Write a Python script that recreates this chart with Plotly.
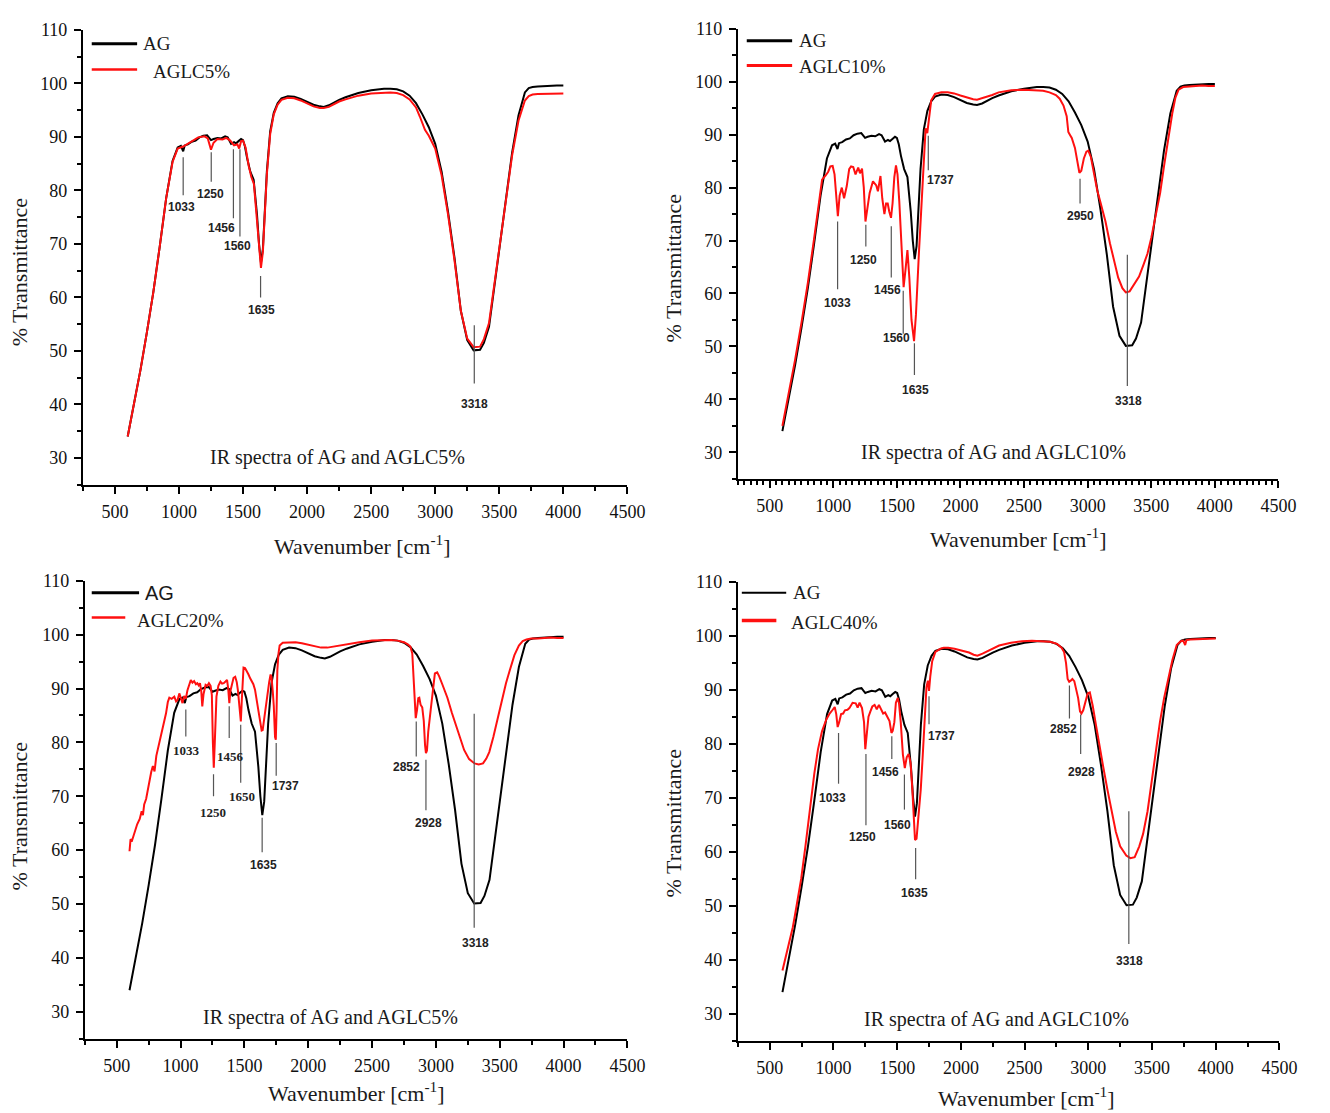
import plotly.graph_objects as go

W, H = 1330, 1113

# ---------------- spectra: (wavenumber cm-1, % transmittance) ----------------
AG = [
    (600, 34.0), (625, 37.0), (650, 40.0), (700, 46.5), (750, 53.5), (800, 61.0),
    (850, 69.5), (900, 78.5), (950, 85.5), (990, 88.0), (1015, 88.3), (1033, 87.3),
    (1045, 88.4), (1070, 88.6), (1100, 89.1), (1130, 89.3), (1160, 89.9), (1190, 90.2),
    (1220, 90.3), (1250, 89.4), (1270, 89.6), (1300, 89.8), (1330, 89.7), (1360, 90.1),
    (1380, 89.9), (1407, 88.7), (1430, 89.0), (1446, 88.8), (1465, 89.2), (1485, 89.6),
    (1500, 89.4), (1515, 88.2), (1532, 86.0), (1557, 83.5), (1583, 82.0), (1609, 75.5),
    (1625, 70.0), (1640, 66.5), (1655, 69.0), (1670, 75.0), (1686, 83.5), (1712, 91.0),
    (1740, 94.5), (1770, 96.3), (1800, 97.2), (1850, 97.6), (1900, 97.5), (1950, 97.1),
    (2000, 96.5), (2050, 96.0), (2100, 95.7), (2130, 95.6), (2170, 95.9), (2200, 96.3),
    (2250, 96.9), (2300, 97.4), (2400, 98.2), (2500, 98.7), (2600, 99.0), (2650, 99.0),
    (2700, 98.9), (2750, 98.5), (2800, 97.7), (2850, 96.3), (2900, 94.2), (2950, 91.8),
    (3000, 88.7), (3050, 83.5), (3100, 76.0), (3150, 67.5), (3200, 57.5), (3250, 52.0),
    (3300, 50.1), (3350, 50.2), (3380, 51.5), (3420, 54.5), (3450, 60.0), (3500, 69.5),
    (3550, 78.5), (3600, 87.0), (3650, 94.0), (3700, 98.3), (3730, 99.1), (3760, 99.3),
    (3800, 99.4), (3850, 99.5), (3900, 99.6), (3950, 99.6), (4000, 99.6),
]

AGLC5 = [
    (600, 34.0), (625, 37.0), (650, 40.0), (700, 46.5), (750, 53.5), (800, 61.0),
    (850, 69.5), (900, 78.5), (950, 85.3), (990, 87.8), (1033, 88.2), (1060, 88.6),
    (1100, 89.3), (1150, 89.9), (1200, 90.1), (1225, 89.7), (1250, 87.6), (1270, 88.9),
    (1300, 89.6), (1340, 89.5), (1370, 89.8), (1400, 89.3), (1430, 88.4), (1456, 88.6),
    (1470, 87.8), (1485, 89.2), (1500, 89.3), (1520, 88.0), (1545, 84.5), (1565, 82.5),
    (1585, 81.2), (1605, 76.0), (1625, 69.5), (1640, 65.5), (1655, 68.5), (1670, 74.5),
    (1686, 83.0), (1712, 90.5), (1740, 94.2), (1770, 96.0), (1800, 96.9), (1850, 97.3),
    (1900, 97.2), (1950, 96.8), (2000, 96.2), (2050, 95.7), (2100, 95.4), (2130, 95.4),
    (2170, 95.6), (2200, 96.0), (2250, 96.6), (2300, 97.0), (2400, 97.7), (2500, 98.1),
    (2600, 98.3), (2650, 98.3), (2700, 98.2), (2750, 97.8), (2800, 97.0), (2850, 95.5),
    (2880, 93.8), (2900, 92.5), (2920, 91.3), (2950, 90.2), (3000, 87.8), (3050, 82.8),
    (3100, 75.5), (3150, 67.0), (3200, 57.5), (3250, 52.3), (3300, 50.7), (3350, 50.8),
    (3380, 52.2), (3420, 55.2), (3450, 60.5), (3500, 69.7), (3550, 78.5), (3600, 86.5),
    (3650, 93.0), (3700, 96.8), (3730, 97.6), (3760, 97.9), (3800, 98.0), (3900, 98.1),
    (4000, 98.1),
]

AGLC10 = [
    (600, 35.0), (625, 38.0), (650, 41.0), (700, 47.5), (750, 54.5), (800, 62.0),
    (850, 70.5), (880, 76.0), (912, 81.5), (940, 82.3), (960, 83.0), (977, 84.0),
    (995, 84.1), (1010, 82.5), (1022, 78.0), (1036, 74.6), (1050, 78.5), (1067, 80.0),
    (1085, 78.0), (1106, 80.3), (1125, 83.5), (1140, 84.0), (1157, 83.9), (1175, 82.5),
    (1196, 83.8), (1210, 82.7), (1226, 83.6), (1240, 80.0), (1253, 73.6), (1268, 76.5),
    (1286, 79.0), (1312, 81.2), (1338, 80.4), (1351, 79.3), (1371, 82.2), (1385, 78.0),
    (1402, 75.0), (1415, 77.0), (1428, 77.0), (1440, 75.5), (1454, 74.3), (1466, 77.0),
    (1480, 82.0), (1493, 84.2), (1505, 82.5), (1519, 77.4), (1535, 69.0), (1553, 61.2),
    (1568, 64.5), (1583, 68.2), (1598, 63.0), (1615, 55.0), (1635, 51.0), (1650, 56.0),
    (1674, 68.0), (1700, 80.5), (1715, 87.5), (1726, 91.2), (1739, 90.3), (1750, 93.0),
    (1770, 96.5), (1800, 97.7), (1850, 98.0), (1900, 98.0), (1950, 97.8), (2000, 97.4),
    (2050, 97.0), (2100, 96.7), (2130, 96.6), (2200, 97.1), (2250, 97.5), (2300, 98.0),
    (2400, 98.4), (2500, 98.5), (2600, 98.4), (2650, 98.3), (2700, 98.0), (2750, 97.5),
    (2780, 96.8), (2810, 95.5), (2835, 93.5), (2848, 90.5), (2860, 90.0), (2875, 89.4),
    (2900, 87.5), (2920, 84.5), (2935, 82.8), (2950, 83.2), (2970, 85.5), (2990, 86.8),
    (3005, 87.0), (3025, 85.8), (3050, 82.5), (3075, 79.5), (3100, 77.3), (3140, 73.6),
    (3175, 69.5), (3207, 66.5), (3240, 63.0), (3273, 61.0), (3300, 60.2), (3330, 60.4),
    (3360, 61.5), (3404, 63.2), (3440, 65.5), (3470, 67.5), (3500, 70.5), (3535, 74.5),
    (3570, 79.0), (3600, 84.0), (3635, 89.5), (3665, 94.0), (3690, 97.0), (3715, 98.5),
    (3750, 99.0), (3800, 99.1), (3850, 99.2), (3900, 99.3), (3950, 99.2), (4000, 99.2),
]

AGLC20 = [
    (600, 59.8), (608, 62.0), (620, 61.8), (640, 63.5), (660, 64.8), (680, 65.8),
    (695, 67.2), (705, 66.5), (715, 68.5), (730, 69.5), (745, 71.5), (757, 72.5),
    (770, 74.5), (783, 75.6), (796, 74.6), (810, 77.5), (822, 78.7), (840, 80.5),
    (860, 82.4), (875, 84.5), (886, 85.4), (900, 87.5), (912, 88.3), (930, 88.1),
    (951, 88.5), (965, 87.6), (977, 87.9), (990, 89.1), (1003, 88.0), (1015, 87.3),
    (1028, 88.6), (1041, 88.1), (1054, 89.7), (1067, 90.8), (1080, 91.6), (1093, 91.1),
    (1106, 91.4), (1120, 90.8), (1131, 91.0), (1142, 90.6), (1152, 91.0), (1162, 89.5),
    (1170, 86.7), (1180, 89.0), (1196, 90.7), (1210, 90.5), (1222, 91.0), (1235, 90.5),
    (1245, 88.8), (1253, 80.0), (1260, 75.3), (1268, 80.0), (1281, 88.5), (1296, 90.5),
    (1312, 91.3), (1325, 90.9), (1338, 91.0), (1352, 91.3), (1364, 91.6), (1373, 90.0),
    (1382, 87.3), (1390, 89.5), (1402, 91.0), (1415, 92.0), (1428, 92.2), (1440, 91.2),
    (1449, 89.7), (1462, 86.0), (1472, 83.9), (1480, 88.0), (1493, 93.9), (1505, 93.8),
    (1519, 93.3), (1532, 92.6), (1545, 91.9), (1558, 91.4), (1570, 90.8), (1583, 89.8),
    (1596, 87.9), (1610, 85.5), (1622, 83.6), (1635, 82.2), (1643, 82.3), (1655, 84.5),
    (1668, 87.3), (1681, 89.5), (1694, 91.2), (1705, 92.6), (1712, 92.2), (1722, 89.5),
    (1730, 86.8), (1740, 81.0), (1746, 80.5), (1752, 86.0), (1758, 93.4), (1767, 96.5),
    (1776, 98.0), (1800, 98.5), (1850, 98.6), (1900, 98.6), (1950, 98.4), (2000, 98.1),
    (2050, 97.8), (2100, 97.6), (2150, 97.6), (2200, 97.8), (2250, 98.1), (2300, 98.3),
    (2400, 98.6), (2500, 98.9), (2600, 99.0), (2650, 99.0), (2700, 98.9), (2750, 98.6),
    (2780, 98.2), (2800, 97.8), (2815, 96.5), (2825, 92.0), (2835, 86.0), (2842, 84.5),
    (2852, 86.0), (2862, 88.2), (2870, 88.3), (2880, 87.0), (2893, 86.5), (2905, 84.0),
    (2915, 79.5), (2922, 78.0), (2930, 78.5), (2940, 82.0), (2959, 86.0), (2975, 90.0),
    (2992, 92.8), (3010, 93.0), (3025, 92.3), (3050, 90.8), (3090, 88.3), (3125, 85.5),
    (3156, 83.2), (3190, 80.8), (3221, 78.6), (3260, 76.9), (3303, 76.1), (3335, 75.9),
    (3369, 76.1), (3395, 77.0), (3418, 78.2), (3450, 81.0), (3484, 84.5), (3515, 87.7),
    (3549, 91.0), (3580, 93.5), (3615, 96.2), (3650, 98.0), (3680, 98.8), (3710, 99.1),
    (3746, 99.3), (3800, 99.3), (3850, 99.4), (3900, 99.5), (3950, 99.4), (4000, 99.4),
]

AGLC40 = [
    (600, 38.0), (625, 40.5), (650, 43.0), (681, 46.0), (700, 48.5), (747, 55.0),
    (780, 61.0), (813, 67.5), (850, 74.5), (879, 79.0), (910, 82.3), (944, 84.5),
    (970, 85.6), (994, 86.3), (1010, 86.8), (1022, 85.5), (1033, 83.1), (1045, 84.0),
    (1060, 85.5), (1076, 85.6), (1090, 86.2), (1110, 86.3), (1125, 86.6), (1150, 87.6),
    (1175, 87.5), (1190, 86.7), (1205, 87.6), (1224, 86.6), (1240, 84.0), (1250, 79.0),
    (1262, 81.5), (1275, 85.0), (1290, 86.0), (1305, 86.9), (1323, 87.2), (1340, 86.4),
    (1357, 87.2), (1372, 86.4), (1390, 85.6), (1405, 85.8), (1422, 85.0), (1440, 84.2),
    (1455, 82.0), (1465, 82.4), (1478, 84.0), (1490, 87.6), (1505, 88.5), (1515, 87.4),
    (1528, 84.0), (1545, 78.0), (1560, 75.5), (1575, 77.5), (1590, 78.1), (1605, 76.5),
    (1618, 72.0), (1630, 65.0), (1640, 62.2), (1652, 62.4), (1665, 66.0), (1685, 71.5),
    (1700, 77.5), (1718, 86.0), (1730, 90.5), (1741, 91.7), (1750, 89.8), (1760, 92.5),
    (1775, 95.3), (1800, 97.0), (1840, 97.6), (1866, 97.8), (1900, 97.8), (1950, 97.6),
    (2000, 97.3), (2064, 96.9), (2100, 96.5), (2130, 96.3), (2170, 96.7), (2228, 97.4),
    (2300, 98.2), (2393, 98.7), (2480, 99.0), (2558, 99.1), (2650, 99.0), (2700, 98.9),
    (2755, 98.5), (2790, 97.8), (2810, 97.0), (2825, 95.0), (2838, 92.0), (2850, 91.5),
    (2862, 91.7), (2875, 92.0), (2890, 91.6), (2905, 90.0), (2920, 88.5), (2935, 86.0),
    (2946, 85.6), (2960, 86.2), (2975, 87.8), (2995, 89.3), (3012, 89.5), (3035, 87.0),
    (3060, 83.5), (3084, 80.0), (3115, 76.0), (3150, 71.5), (3185, 67.0), (3216, 63.7),
    (3250, 61.0), (3298, 59.3), (3330, 58.8), (3364, 59.0), (3400, 61.0), (3430, 63.3),
    (3465, 67.5), (3496, 72.8), (3530, 78.5), (3562, 84.0), (3595, 88.5), (3628, 92.4),
    (3660, 95.5), (3694, 98.3), (3725, 99.0), (3745, 99.1), (3760, 98.3), (3770, 99.2),
    (3800, 99.3), (3900, 99.4), (4000, 99.5),
]

# ---------------- band assignments: label, marker x, marker y0..y1, label x, label y ----------------
SANS = "Liberation Sans"
SERIF = "Liberation Serif"

PEAKS_5 = [
    ("1033", 1033, 86.2, 79.1, 1020, 76.8, SANS),
    ("1250", 1252, 87.1, 81.6, 1245, 79.3, SANS),
    ("1456", 1425, 87.7, 74.8, 1335, 73.0, SANS),
    ("1560", 1476, 87.7, 71.4, 1456, 69.6, SANS),
    ("1635", 1637, 64.0, 60.0, 1643, 57.6, SANS),
    ("3318", 3305, 54.8, 43.9, 3305, 40.0, SANS),
]
PEAKS_10 = [
    ("1033", 1034, 73.6, 60.8, 1034, 58.2, SANS),
    ("1250", 1256, 73.0, 68.9, 1235, 66.4, SANS),
    ("1456", 1456, 72.7, 63.0, 1424, 60.7, SANS),
    ("1560", 1550, 60.5, 52.4, 1501, 51.5, SANS),
    ("1635", 1638, 50.6, 44.6, 1645, 41.8, SANS),
    ("1737", 1747, 89.8, 83.3, 1841, 81.4, SANS),
    ("2950", 2940, 81.7, 77.0, 2946, 74.7, SANS),
    ("3318", 3312, 67.3, 42.5, 3318, 39.7, SANS),
]
PEAKS_20 = [
    ("1033", 1041, 86.1, 81.1, 1050, 78.5, SERIF),
    ("1250", 1258, 74.1, 70.0, 1255, 67.0, SERIF),
    ("1456", 1381, 86.7, 80.8, 1392, 77.3, SERIF),
    ("1650", 1471, 83.3, 72.5, 1478, 70.0, SERIF),
    ("1635", 1639, 66.0, 59.6, 1652, 57.2, SANS),
    ("1737", 1749, 79.9, 73.8, 1820, 72.0, SANS),
    ("2852", 2846, 83.9, 77.4, 2772, 75.5, SANS),
    ("2928", 2922, 76.8, 67.4, 2945, 65.1, SANS),
    ("3318", 3300, 85.3, 45.6, 3310, 42.8, SANS),
]
PEAKS_40 = [
    ("1033", 1040, 82.0, 72.6, 994, 70.0, SANS),
    ("1250", 1255, 78.1, 64.9, 1231, 62.8, SANS),
    ("1456", 1458, 81.4, 77.2, 1409, 74.8, SANS),
    ("1560", 1557, 74.3, 67.8, 1504, 64.9, SANS),
    ("1635", 1645, 60.7, 54.9, 1636, 52.3, SANS),
    ("1737", 1750, 88.8, 83.6, 1850, 81.5, SANS),
    ("2852", 2852, 90.8, 84.7, 2805, 82.7, SANS),
    ("2928", 2940, 85.4, 78.1, 2946, 74.7, SANS),
    ("3318", 3318, 67.5, 42.9, 3325, 39.8, SANS),
]


def px(x):
    return x / W


def py(y):
    return 1 - y / H


# Panel layout, in page pixels: plot box (left, right, top, bottom), legend and titles
PANELS = [
    dict(series=AGLC5, name="AGLC5%", peaks=PEAKS_5, caption="IR spectra of AG and AGLC5%",
         cap_xy=(2235, 30.0), box=(84, 636, 20, 479), minor=250,
         leg=dict(x0=93, x1=139, yb=34, yr=60, xr1=139, tb=143, tr=153, ty_r=62,
                  ag_font=SERIF, ag_size=19, wb=3, wr=2.5),
         ytitle=(20, 264), xtitle=(367, 540)),
    dict(series=AGLC10, name="AGLC10%", peaks=PEAKS_10, caption="IR spectra of AG and AGLC10%",
         cap_xy=(2257, 30.0), box=(748, 1296, 19, 473), minor=50,
         leg=dict(x0=757, x1=803, yb=31, yr=56, xr1=803, tb=808, tr=808, ty_r=57,
                  ag_font=SERIF, ag_size=19, wb=3, wr=3),
         ytitle=(683, 260), xtitle=(1032, 533)),
    dict(series=AGLC20, name="AGLC20%", peaks=PEAKS_20, caption="IR spectra of AG and AGLC5%",
         cap_xy=(2174, 29.0), box=(86, 636, 576, 1038), minor=250,
         leg=dict(x0=93, x1=141, yb=588, yr=613, xr1=127, tb=145, tr=137, ty_r=616,
                  ag_font=SANS, ag_size=20, wb=3, wr=2.5),
         ytitle=(20, 813), xtitle=(361, 1092)),
    dict(series=AGLC40, name="AGLC40%", peaks=PEAKS_40, caption="IR spectra of AG and AGLC10%",
         cap_xy=(2280, 28.9), box=(748, 1297, 577, 1040), minor=250,
         leg=dict(x0=752, x1=797, yb=588, yr=616, xr1=787, tb=802, tr=800, ty_r=618,
                  ag_font=SERIF, ag_size=19, wb=2, wr=3.5),
         ytitle=(683, 820), xtitle=(1041, 1097)),
]

fig = go.Figure()
shapes = []
annotations = []
layout_axes = {}

tick_font = dict(family=SERIF, size=18, color="#111111")

for i, p in enumerate(PANELS, start=1):
    sfx = "" if i == 1 else str(i)
    xref, yref = "x" + sfx, "y" + sfx
    left, right, top, bottom = p["box"]

    ag_x = [w for w, _ in AG]
    ag_y = [t for _, t in AG]
    s_x = [w for w, _ in p["series"]]
    s_y = [t for _, t in p["series"]]

    fig.add_trace(go.Scatter(x=ag_x, y=ag_y, mode="lines", name="AG",
                             line=dict(color="black", width=2), xaxis=xref, yaxis=yref,
                             showlegend=False))
    fig.add_trace(go.Scatter(x=s_x, y=s_y, mode="lines", name=p["name"],
                             line=dict(color="#ff1010", width=2), xaxis=xref, yaxis=yref,
                             showlegend=False))

    layout_axes["xaxis" + sfx] = dict(
        domain=[px(left), px(right)], anchor=yref, range=[250, 4500],
        tick0=0, dtick=500, ticks="outside", ticklen=7, tickwidth=2, tickcolor="black",
        showline=True, linewidth=2, linecolor="black", showgrid=False, zeroline=False,
        tickfont=tick_font, ticklabelstandoff=3,
        minor=dict(tick0=0, dtick=p["minor"], ticks="outside", ticklen=4, tickwidth=1.5,
                   tickcolor="black", showgrid=False),
    )
    layout_axes["yaxis" + sfx] = dict(
        domain=[py(bottom), py(top)], anchor=xref, range=[25, 110],
        tick0=0, dtick=10, ticks="outside", ticklen=7, tickwidth=2, tickcolor="black",
        showline=True, linewidth=2, linecolor="black", showgrid=False, zeroline=False,
        tickfont=tick_font, ticklabelstandoff=3,
        minor=dict(tick0=0, dtick=5, ticks="outside", ticklen=4, tickwidth=1.5,
                   tickcolor="black", showgrid=False),
    )

    # band markers and their wavenumber labels
    for label, mx, y0, y1, lx, ly, fam in p["peaks"]:
        shapes.append(dict(type="line", xref=xref, yref=yref, x0=mx, x1=mx, y0=y0, y1=y1,
                           line=dict(color="#555555", width=1.2)))
        annotations.append(dict(text="<b>%s</b>" % label, x=lx, y=ly, xref=xref, yref=yref,
                                showarrow=False, xanchor="center", yanchor="middle",
                                font=dict(family=fam, size=12 if fam == SANS else 13,
                                          color="#222222")))

    # caption inside the plot
    cx, cy = p["cap_xy"]
    annotations.append(dict(text=p["caption"], x=cx, y=cy, xref=xref, yref=yref,
                            showarrow=False, xanchor="center", yanchor="middle",
                            font=dict(family=SERIF, size=20, color="#1a1a1a")))

    # legend keys
    lg = p["leg"]
    shapes.append(dict(type="line", xref="paper", yref="paper",
                       x0=px(lg["x0"]), x1=px(lg["x1"]), y0=py(lg["yb"]), y1=py(lg["yb"]),
                       line=dict(color="black", width=lg["wb"])))
    shapes.append(dict(type="line", xref="paper", yref="paper",
                       x0=px(lg["x0"]), x1=px(lg["xr1"]), y0=py(lg["yr"]), y1=py(lg["yr"]),
                       line=dict(color="#ff1010", width=lg["wr"])))
    annotations.append(dict(text="AG", x=px(lg["tb"]), y=py(lg["yb"]), xref="paper",
                            yref="paper", showarrow=False, xanchor="left", yanchor="middle",
                            font=dict(family=lg["ag_font"], size=lg["ag_size"], color="#1a1a1a")))
    annotations.append(dict(text=p["name"], x=px(lg["tr"]), y=py(lg["ty_r"]), xref="paper",
                            yref="paper", showarrow=False, xanchor="left", yanchor="middle",
                            font=dict(family=SERIF, size=19, color="#1a1a1a")))

    # axis titles
    tx, ty = p["ytitle"]
    annotations.append(dict(text="% Transmittance", x=px(tx), y=py(ty), xref="paper",
                            yref="paper", showarrow=False, textangle=-90,
                            xanchor="center", yanchor="middle",
                            font=dict(family=SERIF, size=22, color="#1a1a1a")))
    tx, ty = p["xtitle"]
    annotations.append(dict(text="Wavenumber [cm<sup>-1</sup>]", x=px(tx), y=py(ty),
                            xref="paper", yref="paper", showarrow=False,
                            xanchor="center", yanchor="middle",
                            font=dict(family=SERIF, size=22, color="#1a1a1a")))

fig.update_layout(
    width=W, height=H,
    margin=dict(l=0, r=0, t=0, b=0),
    paper_bgcolor="white", plot_bgcolor="white",
    showlegend=False,
    shapes=shapes, annotations=annotations,
    **layout_axes,
)

fig.write_html("out.html")
